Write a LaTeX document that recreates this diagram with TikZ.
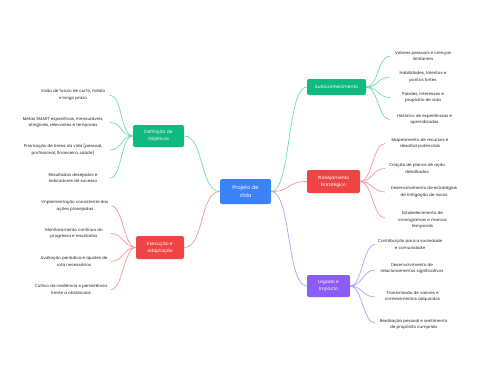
\documentclass[tikz,border=0pt]{standalone}
\usepackage{fontspec}
\setmainfont{Poppins}
\definecolor{cblue}{HTML}{3B82F6}
\definecolor{cgreen}{HTML}{10B981}
\definecolor{cred}{HTML}{EF4444}
\definecolor{cpurple}{HTML}{8B5CF6}
\definecolor{lgreen}{HTML}{6EDDB4}
\definecolor{lred}{HTML}{F89494}
\definecolor{lpurple}{HTML}{B3A0FA}
\begin{document}
\begin{tikzpicture}[x=1pt,y=-1pt,
  topic/.style={rounded corners=2pt, inner sep=0pt, text=white, align=center,
    font=\fontsize{4.5}{7}\selectfont},
  leaf/.style={inner sep=0pt, align=center, text=black!85, font=\fontsize{4.1}{6.8}\selectfont},
  gcon/.style={draw=lgreen, line width=0.7pt},
  rcon/.style={draw=lred, line width=0.7pt},
  pcon/.style={draw=lpurple, line width=0.7pt}]
\useasboundingbox (0,0) rectangle (480,384);
\fill[white] (0,0) rectangle (480,384);

% main topics
\node[topic, fill=cblue, minimum width=51pt, minimum height=25pt, font=\fontsize{5.2}{8}\selectfont] (c) at (245.5,191.5) {Projeto de\\Vida};
\node[topic, fill=cgreen, minimum width=51pt, minimum height=22pt] (d) at (158.5,136) {Definição de\\Objetivos};
\node[topic, fill=cred, minimum width=48pt, minimum height=23pt] (e) at (160,247.5) {Execução e\\Adaptação};
\node[topic, fill=cgreen, minimum width=59pt, minimum height=16pt] (a) at (336.5,87) {Autoconhecimento};
\node[topic, fill=cred, minimum width=53pt, minimum height=23pt] (p) at (333.5,181.5) {Planejamento\\Estratégico};
\node[topic, fill=cpurple, minimum width=43pt, minimum height=22pt] (l) at (328.5,286) {Legado e\\Impacto};

% main connectors
\draw[gcon] (c.west) .. controls +(-20,0) and +(20,0) .. (d.east);
\draw[rcon] (c.west) .. controls +(-20,0) and +(20,0) .. (e.east);
\draw[gcon] (c.east) .. controls +(20,0) and +(-20,0) .. (a.west);
\draw[rcon] (c.east) .. controls +(20,0) and +(-20,0) .. (p.west);
\draw[pcon] (c.east) .. controls +(20,0) and +(-20,0) .. (l.west);

% Definição leaves
\node[leaf] (d1) at (73,95) {Visão de futuro de curto, médio\\e longo prazo};
\node[leaf] (d2) at (63,122.5) {Metas SMART específicas, mensuráveis,\\atingíveis, relevantes e temporais};
\node[leaf] (d3) at (63,150) {Priorização de áreas da vida (pessoal,\\profissional, financeira, saúde)};
\node[leaf] (d4) at (73,178) {Resultados desejados e\\indicadores de sucesso};
\coordinate (d1e) at (110,95);
\coordinate (d2e) at (110,122.5);
\coordinate (d3e) at (110,150);
\coordinate (d4e) at (110,178);
\foreach \k in {d1e,d2e,d3e,d4e}
  \draw[gcon] (d.west) .. controls +(-12,0) and +(12,0) .. (\k);

% Execução leaves
\node[leaf] (e1) at (75,206) {Implementação consistente das\\ações planejadas};
\node[leaf] (e2) at (74,233.5) {Monitoramento contínuo do\\progresso e resultados};
\node[leaf] (e3) at (74,261.5) {Avaliação periódica e ajustes de\\rota necessários};
\node[leaf] (e4) at (71,289.5) {Cultivo da resiliência e persistência\\frente a obstáculos};
\coordinate (e1e) at (111,206);
\coordinate (e2e) at (111,233.5);
\coordinate (e3e) at (111,261.5);
\coordinate (e4e) at (111,289.5);
\foreach \k in {e1e,e2e,e3e,e4e}
  \draw[rcon] (e.west) .. controls +(-12,0) and +(12,0) .. (\k);

% Autoconhecimento leaves
\node[leaf] (a1) at (423,56) {Valores pessoais e crenças\\limitantes};
\node[leaf] (a2) at (423,77) {Habilidades, talentos e\\pontos fortes};
\node[leaf] (a3) at (423,97.5) {Paixões, interesses e\\propósito de vida};
\node[leaf] (a4) at (424.5,119.5) {Histórico de experiências e\\aprendizados};
\coordinate (a1e) at (390,56);
\coordinate (a2e) at (390,77);
\coordinate (a3e) at (390,97.5);
\coordinate (a4e) at (390,119.5);
\foreach \k in {a1e,a2e,a3e,a4e}
  \draw[gcon] (a.east) .. controls +(12,0) and +(-12,0) .. (\k);

% Planejamento leaves
\node[leaf] (p1) at (420,143.5) {Mapeamento de recursos e\\desafios potenciais};
\node[leaf] (p2) at (417,168.5) {Criação de planos de ação\\detalhados};
\node[leaf] (p3) at (424,192) {Desenvolvimento de estratégias\\de mitigação de riscos};
\node[leaf] (p4) at (422.5,220) {Estabelecimento de\\cronogramas e marcos\\temporais};
\coordinate (p1e) at (385,143.5);
\coordinate (p2e) at (385,168.5);
\coordinate (p3e) at (385,192);
\coordinate (p4e) at (385,218);
\foreach \k in {p1e,p2e,p3e,p4e}
  \draw[rcon] (p.east) .. controls +(12,0) and +(-12,0) .. (\k);

% Legado leaves
\node[leaf] (l1) at (410,244.5) {Contribuição para a sociedade\\e comunidade};
\node[leaf] (l2) at (412,268.5) {Desenvolvimento de\\relacionamentos significativos};
\node[leaf] (l3) at (412.5,296.5) {Transmissão de valores e\\conhecimentos adquiridos};
\node[leaf] (l4) at (413.7,324.5) {Realização pessoal e sentimento\\de propósito cumprido};
\coordinate (l1e) at (375,244.5);
\coordinate (l2e) at (375,270);
\coordinate (l3e) at (375,297);
\coordinate (l4e) at (375,323);
\foreach \k in {l1e,l2e,l3e,l4e}
  \draw[pcon] (l.east) .. controls +(12,0) and +(-12,0) .. (\k);
\end{tikzpicture}
\end{document}
